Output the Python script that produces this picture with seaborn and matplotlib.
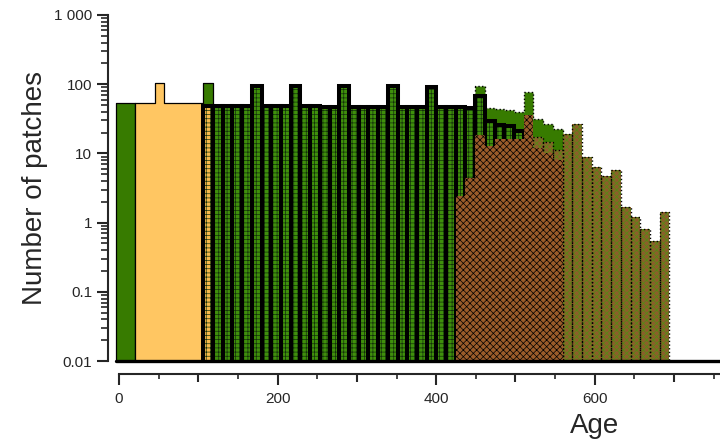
import numpy as np
import matplotlib
matplotlib.use("Agg")
import matplotlib.pyplot as plt
from matplotlib.ticker import FixedLocator, FuncFormatter, LogLocator, NullFormatter, MultipleLocator
import seaborn as sns

# number of patches per age class (classes are ~12 years wide, class 0 starts just below 0)
green_first_start = 0
green_first = [53, 53]                                     # classes 0-1
green_spike_start = 9
green_spike = [105]                                        # class 9
green_late_start = 37
green_late = [94, 45, 44, 42, 40, 76, 31, 27, 22.5]        # classes 37-45

orange_start = 2
orange_solid = [53, 53, 105, 53, 53, 53, 53]               # classes 2-8
orange_hatched_start = 9
orange_hatched = [49]                                      # class 9

dark_start = 10
dark_hatched = [49, 49, 49, 49, 95, 49, 49, 49, 95, 49, 49, 47, 47, 95, 47, 47,
                47, 47, 95, 47, 47, 47, 91, 47, 47, 47, 45, 67, 29, 26, 24.5, 21]  # classes 10-41

brown_start = 35
brown_hatched = [2.4, 4.4, 18.5, 13, 16, 16, 16, 36, 12, 10, 8]                     # classes 35-45

olive_start = 43
olive_hatched = [17.4, 14.8, 11.2, 19, 27, 8.8, 6.4, 4.7, 5.75, 1.66, 1.19, 0.82, 0.54, 1.42]  # classes 43-56

y_ticks = [0.01, 0.1, 1, 10, 100, 1000]
y_tick_labels = ["0.01", "0.1", "1", "10", "100", "1 000"]
x_tick_labels = [0, 200, 400, 600]

# class geometry
class_width = 12.25
first_edge = -4
n_classes = 57
edges = first_edge + class_width * np.arange(n_classes + 1)
centers = edges[:-1] + class_width / 2

sns.set_style("ticks")
plt.rcParams["font.family"] = ["Liberation Sans", "DejaVu Sans"]
plt.rcParams["hatch.linewidth"] = 0.5

fig = plt.figure(figsize=(7.2, 4.4), dpi=100)
ax = fig.add_axes([108 / 720, 1 - 361 / 440, 612 / 720, 346 / 440])
ax.set_yscale("log")


def layer(start, values, element="bars", **kw):
    vals = np.asarray(values, dtype=float)
    idx = np.arange(start, start + len(vals))
    keep = vals > 0
    sns.histplot(x=list(centers[idx][keep]), weights=list(vals[keep]),
                 bins=list(edges[start:start + len(vals) + 1]),
                 ax=ax, stat="count", element=element, fill=True, alpha=1, **kw)


def striped(start, values, stripe):
    layer(start, values, facecolor=stripe, edgecolor="#12300a", hatch="++++", linewidth=0)
    layer(start, values, facecolor="none", edgecolor="black", linewidth=2.9)


# back to front
green = "#377b00"
layer(green_first_start, green_first, element="step", facecolor=green, edgecolor="black", linewidth=0.9)
layer(green_spike_start, green_spike, element="step", facecolor=green, edgecolor="black", linewidth=0.9)
layer(green_late_start, green_late, element="step", facecolor=green, edgecolor="black", linewidth=1.0, linestyle=":")
layer(orange_start, orange_solid, element="step", facecolor="#ffc662", edgecolor="black", linewidth=0.9)
striped(orange_hatched_start, orange_hatched, "#f5b94a")
striped(dark_start, dark_hatched, "#3f8f0c")
layer(olive_start, olive_hatched, facecolor="#8a602a", edgecolor="#4e9012", hatch="xxxxx", linewidth=0)
layer(olive_start, olive_hatched, facecolor="none", edgecolor="black", linewidth=1.0, linestyle=":")
layer(brown_start, brown_hatched, facecolor="#9a5c2a", edgecolor="black", hatch="xxxxx", linewidth=0)

xmin, xmax = -13.9, 758
ax.set_xlim(xmin, xmax)
ax.set_ylim(0.01, 1000)
ax.axhline(0.01, xmin=(first_edge - xmin) / (xmax - xmin), xmax=1, color="black", lw=2.4, clip_on=False, zorder=5)

sns.despine(ax=ax)
ax.spines["left"].set_linewidth(1.5)
ax.spines["bottom"].set_linewidth(1.5)
ax.spines["bottom"].set_position(("outward", 9.7))
ax.spines["bottom"].set_bounds(0, xmax)

ax.yaxis.set_major_locator(FixedLocator(y_ticks))
ax.yaxis.set_major_formatter(FuncFormatter(lambda v, p: y_tick_labels[y_ticks.index(v)] if v in y_ticks else ""))
ax.yaxis.set_minor_locator(LogLocator(base=10, subs=np.arange(2, 10)))
ax.yaxis.set_minor_formatter(NullFormatter())
ax.tick_params(axis="y", which="major", length=8, width=1.5, pad=3.4, labelsize=11, direction="out")
ax.tick_params(axis="y", which="minor", length=4.8, width=1.2, direction="out")

ax.xaxis.set_major_locator(MultipleLocator(100))
ax.xaxis.set_major_formatter(FuncFormatter(lambda v, p: f"{int(round(v))}" if int(round(v)) in x_tick_labels else ""))
ax.xaxis.set_minor_locator(MultipleLocator(50))
ax.tick_params(axis="x", which="major", length=7.7, width=1.5, pad=5, labelsize=11, direction="out")
ax.tick_params(axis="x", which="minor", length=3.4, width=1.2, direction="out")

# unlabelled hundreds get a medium tick
locs = ax.xaxis.get_majorticklocs()
for loc, tick in zip(locs, ax.xaxis.get_major_ticks(len(locs))):
    if int(round(loc)) not in x_tick_labels:
        tick.tick1line.set_markersize(5.4)

ax.set_ylabel("Number of patches", fontsize=20, va="baseline")
ax.yaxis.set_label_coords(-0.108, 0.5)
ax.set_xlabel("Age", fontsize=20, va="baseline")
ax.xaxis.set_label_coords((600 - xmin) / (xmax - xmin), -0.208)

fig.savefig("out.png", dpi=100)
